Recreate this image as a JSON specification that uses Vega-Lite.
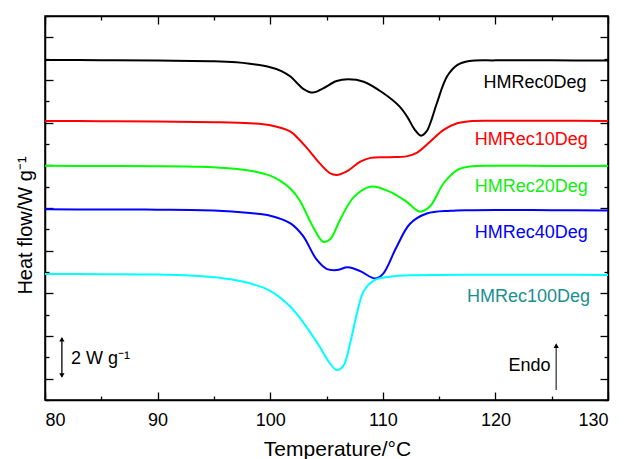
{
  "$schema": "https://vega.github.io/schema/vega-lite/v6.json",
  "width": 563,
  "height": 384,
  "autosize": {"type": "none"},
  "padding": {"left": 45, "top": 16, "right": 17, "bottom": 59},
  "background": "white",
  "config": {
    "view": {"stroke": "black", "strokeWidth": 1.5},
    "font": "Liberation Sans",
    "axis": {"grid": false, "domainColor": "black", "domainWidth": 1.5, "tickColor": "black", "tickWidth": 1.3}
  },
  "datasets": {
    "curves": [
      {"s": "HMRec0Deg", "x": 80, "y": 15.94}, {"s": "HMRec0Deg", "x": 85, "y": 15.93}, {"s": "HMRec0Deg", "x": 90, "y": 15.91}, {"s": "HMRec0Deg", "x": 95, "y": 15.88}, {"s": "HMRec0Deg", "x": 97, "y": 15.83}, {"s": "HMRec0Deg", "x": 98.2, "y": 15.76}, {"s": "HMRec0Deg", "x": 100, "y": 15.6}, {"s": "HMRec0Deg", "x": 101, "y": 15.42}, {"s": "HMRec0Deg", "x": 101.8, "y": 15.16}, {"s": "HMRec0Deg", "x": 102.4, "y": 14.85}, {"s": "HMRec0Deg", "x": 102.9, "y": 14.6}, {"s": "HMRec0Deg", "x": 103.8, "y": 14.41}, {"s": "HMRec0Deg", "x": 104.7, "y": 14.61}, {"s": "HMRec0Deg", "x": 105.9, "y": 14.95}, {"s": "HMRec0Deg", "x": 106.9, "y": 15.03}, {"s": "HMRec0Deg", "x": 108.3, "y": 14.92}, {"s": "HMRec0Deg", "x": 110, "y": 14.4}, {"s": "HMRec0Deg", "x": 111.5, "y": 13.75}, {"s": "HMRec0Deg", "x": 112.2, "y": 13.25}, {"s": "HMRec0Deg", "x": 112.8, "y": 12.7}, {"s": "HMRec0Deg", "x": 113.4, "y": 12.39}, {"s": "HMRec0Deg", "x": 113.9, "y": 12.6}, {"s": "HMRec0Deg", "x": 114.3, "y": 13.1}, {"s": "HMRec0Deg", "x": 114.8, "y": 13.91}, {"s": "HMRec0Deg", "x": 115.7, "y": 15.16}, {"s": "HMRec0Deg", "x": 116.6, "y": 15.7}, {"s": "HMRec0Deg", "x": 117.7, "y": 15.89}, {"s": "HMRec0Deg", "x": 120, "y": 15.92}, {"s": "HMRec0Deg", "x": 125, "y": 15.92}, {"s": "HMRec0Deg", "x": 130, "y": 15.91},
      {"s": "HMRec10Deg", "x": 80, "y": 13.08}, {"s": "HMRec10Deg", "x": 85, "y": 13.07}, {"s": "HMRec10Deg", "x": 90, "y": 13.05}, {"s": "HMRec10Deg", "x": 95, "y": 13.02}, {"s": "HMRec10Deg", "x": 98.2, "y": 12.97}, {"s": "HMRec10Deg", "x": 100, "y": 12.88}, {"s": "HMRec10Deg", "x": 101.8, "y": 12.58}, {"s": "HMRec10Deg", "x": 102.5, "y": 12.25}, {"s": "HMRec10Deg", "x": 103.2, "y": 11.85}, {"s": "HMRec10Deg", "x": 104.4, "y": 11.09}, {"s": "HMRec10Deg", "x": 105.3, "y": 10.64}, {"s": "HMRec10Deg", "x": 105.9, "y": 10.55}, {"s": "HMRec10Deg", "x": 106.8, "y": 10.72}, {"s": "HMRec10Deg", "x": 108, "y": 11.17}, {"s": "HMRec10Deg", "x": 108.9, "y": 11.35}, {"s": "HMRec10Deg", "x": 110.6, "y": 11.38}, {"s": "HMRec10Deg", "x": 112.1, "y": 11.42}, {"s": "HMRec10Deg", "x": 113, "y": 11.58}, {"s": "HMRec10Deg", "x": 114.2, "y": 12.11}, {"s": "HMRec10Deg", "x": 115.4, "y": 12.66}, {"s": "HMRec10Deg", "x": 116.6, "y": 12.97}, {"s": "HMRec10Deg", "x": 117.7, "y": 13.07}, {"s": "HMRec10Deg", "x": 120, "y": 13.09}, {"s": "HMRec10Deg", "x": 125, "y": 13.09}, {"s": "HMRec10Deg", "x": 130, "y": 13.08},
      {"s": "HMRec20Deg", "x": 80, "y": 10.98}, {"s": "HMRec20Deg", "x": 85, "y": 10.97}, {"s": "HMRec20Deg", "x": 90, "y": 10.96}, {"s": "HMRec20Deg", "x": 93.8, "y": 10.93}, {"s": "HMRec20Deg", "x": 96, "y": 10.87}, {"s": "HMRec20Deg", "x": 98.2, "y": 10.75}, {"s": "HMRec20Deg", "x": 100, "y": 10.52}, {"s": "HMRec20Deg", "x": 100.9, "y": 10.27}, {"s": "HMRec20Deg", "x": 101.8, "y": 9.9}, {"s": "HMRec20Deg", "x": 102.6, "y": 9.375}, {"s": "HMRec20Deg", "x": 103.8, "y": 8.12}, {"s": "HMRec20Deg", "x": 104.7, "y": 7.42}, {"s": "HMRec20Deg", "x": 105.3, "y": 7.52}, {"s": "HMRec20Deg", "x": 106.2, "y": 8.44}, {"s": "HMRec20Deg", "x": 107.4, "y": 9.5}, {"s": "HMRec20Deg", "x": 108.9, "y": 10.0}, {"s": "HMRec20Deg", "x": 110.6, "y": 9.77}, {"s": "HMRec20Deg", "x": 112.1, "y": 9.3}, {"s": "HMRec20Deg", "x": 113.3, "y": 8.83}, {"s": "HMRec20Deg", "x": 114.2, "y": 9.08}, {"s": "HMRec20Deg", "x": 115.4, "y": 10.16}, {"s": "HMRec20Deg", "x": 116.6, "y": 10.78}, {"s": "HMRec20Deg", "x": 117.7, "y": 10.94}, {"s": "HMRec20Deg", "x": 120, "y": 10.98}, {"s": "HMRec20Deg", "x": 125, "y": 10.97}, {"s": "HMRec20Deg", "x": 130, "y": 10.97},
      {"s": "HMRec40Deg", "x": 80, "y": 8.94}, {"s": "HMRec40Deg", "x": 85, "y": 8.93}, {"s": "HMRec40Deg", "x": 90, "y": 8.92}, {"s": "HMRec40Deg", "x": 95, "y": 8.88}, {"s": "HMRec40Deg", "x": 98.2, "y": 8.76}, {"s": "HMRec40Deg", "x": 100, "y": 8.64}, {"s": "HMRec40Deg", "x": 101.8, "y": 8.28}, {"s": "HMRec40Deg", "x": 102.9, "y": 7.7}, {"s": "HMRec40Deg", "x": 104.1, "y": 6.6}, {"s": "HMRec40Deg", "x": 105, "y": 6.15}, {"s": "HMRec40Deg", "x": 105.9, "y": 6.09}, {"s": "HMRec40Deg", "x": 106.9, "y": 6.22}, {"s": "HMRec40Deg", "x": 108, "y": 6.04}, {"s": "HMRec40Deg", "x": 109.3, "y": 5.7}, {"s": "HMRec40Deg", "x": 110, "y": 5.9}, {"s": "HMRec40Deg", "x": 111.2, "y": 7.15}, {"s": "HMRec40Deg", "x": 112.4, "y": 8.25}, {"s": "HMRec40Deg", "x": 113.9, "y": 8.74}, {"s": "HMRec40Deg", "x": 116, "y": 8.87}, {"s": "HMRec40Deg", "x": 117.7, "y": 8.9}, {"s": "HMRec40Deg", "x": 120, "y": 8.91}, {"s": "HMRec40Deg", "x": 125, "y": 8.9}, {"s": "HMRec40Deg", "x": 130, "y": 8.88},
      {"s": "HMRec100Deg", "x": 80, "y": 5.91}, {"s": "HMRec100Deg", "x": 85, "y": 5.9}, {"s": "HMRec100Deg", "x": 90, "y": 5.88}, {"s": "HMRec100Deg", "x": 94, "y": 5.8}, {"s": "HMRec100Deg", "x": 96.5, "y": 5.66}, {"s": "HMRec100Deg", "x": 98.2, "y": 5.47}, {"s": "HMRec100Deg", "x": 100, "y": 5.12}, {"s": "HMRec100Deg", "x": 101.8, "y": 4.37}, {"s": "HMRec100Deg", "x": 103.2, "y": 3.44}, {"s": "HMRec100Deg", "x": 104.4, "y": 2.5}, {"s": "HMRec100Deg", "x": 105.3, "y": 1.72}, {"s": "HMRec100Deg", "x": 105.9, "y": 1.41}, {"s": "HMRec100Deg", "x": 106.5, "y": 1.6}, {"s": "HMRec100Deg", "x": 107.1, "y": 2.66}, {"s": "HMRec100Deg", "x": 107.7, "y": 4.06}, {"s": "HMRec100Deg", "x": 108.3, "y": 5.1}, {"s": "HMRec100Deg", "x": 109.2, "y": 5.6}, {"s": "HMRec100Deg", "x": 110.6, "y": 5.78}, {"s": "HMRec100Deg", "x": 113, "y": 5.85}, {"s": "HMRec100Deg", "x": 120, "y": 5.87}, {"s": "HMRec100Deg", "x": 125, "y": 5.87}, {"s": "HMRec100Deg", "x": 130, "y": 5.86}
    ],
    "labels": [
      {"s": "HMRec0Deg", "x": 128.1, "y": 14.86},
      {"s": "HMRec10Deg", "x": 128.2, "y": 12.19},
      {"s": "HMRec20Deg", "x": 128.2, "y": 10.0},
      {"s": "HMRec40Deg", "x": 128.2, "y": 7.81},
      {"s": "HMRec100Deg", "x": 128.4, "y": 4.84}
    ],
    "notes": [
      {"t": "2 W g⁻¹", "x": 82.3, "y": 1.92, "a": "left"},
      {"t": "Endo", "x": 124.9, "y": 1.61, "a": "right"}
    ],
    "bars": [
      {"k": "scale", "x": 81.5, "y1": 1.1, "y2": 2.9},
      {"k": "endo", "x": 125.4, "y1": 0.47, "y2": 2.55}
    ],
    "heads": [
      {"k": "up", "x": 81.5, "y": 2.85},
      {"k": "down", "x": 81.5, "y": 1.15},
      {"k": "up", "x": 125.4, "y": 2.55}
    ]
  },
  "layer": [
    {
      "data": {"name": "curves"},
      "mark": {"type": "line", "strokeWidth": 2, "interpolate": "catmull-rom"},
      "encoding": {
        "x": {"field": "x", "type": "quantitative", "scale": {"domain": [80, 130], "nice": false},
          "axis": {"orient": "bottom", "title": "Temperature/°C", "values": [80, 85, 90, 95, 100, 105, 110, 115, 120, 125, 130],
            "labelExpr": "datum.value % 10 === 0 ? datum.label : ''", "labelFontSize": 18, "labelColor": "black", "labelPadding": 19,
            "tickSize": {"condition": {"test": "datum.value % 10 === 0", "value": -8}, "value": -4},
            "titleFontSize": 21, "titleFontWeight": "normal", "titleColor": "black", "titlePadding": 9, "titleX": 292}},
        "y": {"field": "y", "type": "quantitative", "scale": {"domain": [0, 18], "nice": false},
          "axis": {"orient": "left", "title": "Heat flow/W g⁻¹", "labels": false, "values": [0,1,2,3,4,5,6,7,8,9,10,11,12,13,14,15,16,17,18],
            "tickSize": {"condition": {"test": "datum.value % 2 === 1", "value": -8}, "value": -4},
            "titleFontSize": 20, "titleFontWeight": "normal", "titleColor": "black", "titlePadding": 9, "titleY": 209}},
        "color": {"field": "s", "type": "nominal", "legend": null,
          "scale": {"domain": ["HMRec0Deg", "HMRec10Deg", "HMRec20Deg", "HMRec40Deg", "HMRec100Deg"], "range": ["#000000", "#ff0000", "#00ff00", "#0000ff", "#00ffff"]}}
      }
    },
    {
      "data": {"name": "labels"},
      "mark": {"type": "text", "align": "right", "baseline": "middle", "fontSize": 18},
      "encoding": {
        "x": {"field": "x", "type": "quantitative",
          "axis": {"orient": "top", "title": null, "labels": false, "values": [80, 85, 90, 95, 100, 105, 110, 115, 120, 125, 130],
            "tickSize": {"condition": {"test": "datum.value % 10 === 0", "value": -8}, "value": -4}}},
        "y": {"field": "y", "type": "quantitative",
          "axis": {"orient": "right", "title": null, "labels": false, "values": [0,1,2,3,4,5,6,7,8,9,10,11,12,13,14,15,16,17,18],
            "tickSize": {"condition": {"test": "datum.value % 2 === 1", "value": -8}, "value": -4}}},
        "text": {"field": "s"},
        "fill": {"field": "s", "type": "nominal", "legend": null,
          "scale": {"domain": ["HMRec0Deg", "HMRec10Deg", "HMRec20Deg", "HMRec40Deg", "HMRec100Deg"], "range": ["#000000", "#ff0000", "#11ee11", "#0000ff", "#1a9090"]}}
      }
    },
    {
      "data": {"name": "bars"},
      "transform": [{"filter": "datum.k === 'scale'"}],
      "mark": {"type": "rule", "strokeWidth": 1.3, "color": "black"},
      "encoding": {
        "x": {"field": "x", "type": "quantitative", "axis": null},
        "y": {"field": "y1", "type": "quantitative", "axis": null},
        "y2": {"field": "y2"}
      }
    },
    {
      "data": {"name": "bars"},
      "transform": [{"filter": "datum.k === 'endo'"}],
      "mark": {"type": "rule", "strokeWidth": 1.5, "color": "#555555"},
      "encoding": {
        "x": {"field": "x", "type": "quantitative", "axis": null},
        "y": {"field": "y1", "type": "quantitative", "axis": null},
        "y2": {"field": "y2"}
      }
    },
    {
      "data": {"name": "heads"},
      "mark": {"type": "point", "filled": true, "size": 28, "opacity": 1, "color": "black"},
      "encoding": {
        "x": {"field": "x", "type": "quantitative", "axis": null},
        "y": {"field": "y", "type": "quantitative", "axis": null},
        "shape": {"field": "k", "type": "nominal", "legend": null, "scale": {"domain": ["up", "down"], "range": ["triangle-up", "triangle-down"]}}
      }
    },
    {
      "data": {"name": "notes"},
      "transform": [{"filter": "datum.a === 'left'"}],
      "mark": {"type": "text", "baseline": "middle", "align": "left", "fontSize": 18, "color": "black"},
      "encoding": {
        "x": {"field": "x", "type": "quantitative", "axis": null},
        "y": {"field": "y", "type": "quantitative", "axis": null},
        "text": {"field": "t"}
      }
    },
    {
      "data": {"name": "notes"},
      "transform": [{"filter": "datum.a === 'right'"}],
      "mark": {"type": "text", "baseline": "middle", "align": "right", "fontSize": 18, "color": "black"},
      "encoding": {
        "x": {"field": "x", "type": "quantitative", "axis": null},
        "y": {"field": "y", "type": "quantitative", "axis": null},
        "text": {"field": "t"}
      }
    }
  ]
}
